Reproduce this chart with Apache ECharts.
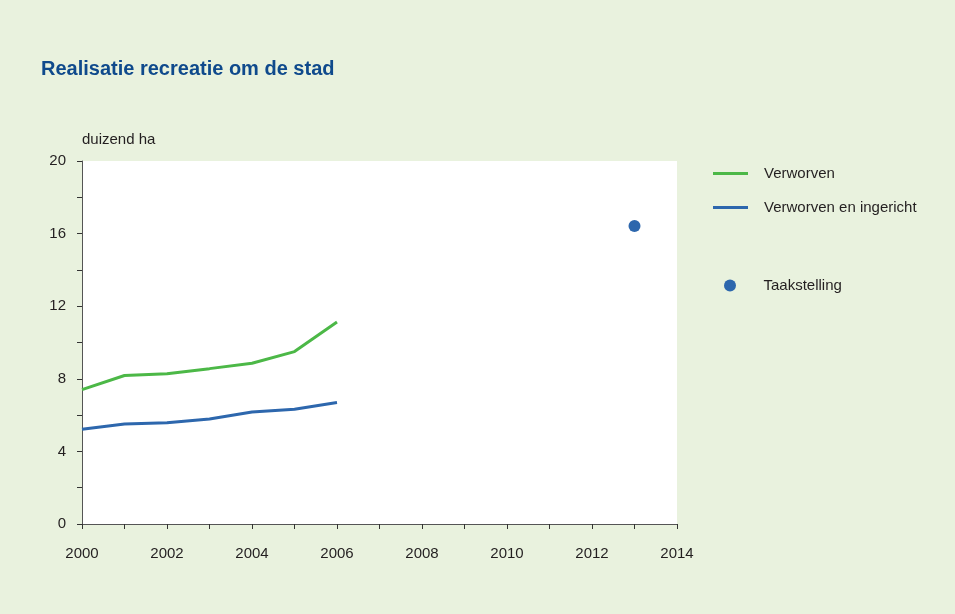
<!DOCTYPE html>
<html>
<head>
<meta charset="utf-8">
<script src="https://cdn.jsdelivr.net/npm/echarts@6/dist/echarts.min.js"></script>
<style>
  html, body { margin: 0; padding: 0; background: #e9f2de; }
  #chart { width: 955px; height: 614px; }
</style>
</head>
<body>
<div id="chart"></div>
<script>
// jaren en waarden (duizend ha)
const years = [2000, 2001, 2002, 2003, 2004, 2005, 2006];
const verworven = [7.4, 8.18, 8.28, 8.56, 8.86, 9.5, 11.13];
const ingericht = [5.22, 5.51, 5.58, 5.78, 6.17, 6.32, 6.7];
const taakJaar = [2013];
const taakstelling = [16.42];

const green = '#4cb847';
const blue = '#2d67ad';
const txt = '#231f20';
const font = 'Liberation Sans, Arial';

const chart = echarts.init(document.getElementById('chart'));

const tickCommon = {
  axisLine: { show: true, lineStyle: { color: '#555', width: 1 } },
  axisTick: { show: true, length: 5, lineStyle: { color: '#333' } },
  minorTick: { show: true, splitNumber: 2, length: 5, lineStyle: { color: '#333' } },
  splitLine: { show: false },
  axisLabel: { color: txt, fontSize: 15, fontFamily: font }
};

chart.setOption({
  backgroundColor: '#e9f2de',
  animation: false,
  title: {
    text: 'Realisatie recreatie om de stad',
    left: 36,
    top: 54,
    textStyle: { color: '#0f4a8c', fontSize: 20, fontWeight: 'bold', fontFamily: font }
  },
  grid: {
    left: 82, right: 278, top: 161, bottom: 90,
    show: true, backgroundColor: '#ffffff', borderWidth: 0
  },
  legend: [
    {
      orient: 'vertical',
      left: 713,
      top: 166,
      padding: 0,
      itemWidth: 35,
      itemHeight: 3,
      itemGap: 19,
      data: [
        { name: 'Verworven', icon: 'rect' },
        { name: 'Verworven en ingericht', icon: 'rect' }
      ],
      textStyle: { color: txt, fontSize: 15, fontFamily: font, padding: [0, 0, 0, 11] }
    },
    {
      orient: 'vertical',
      left: 719,
      top: 273,
      itemWidth: 35,
      itemHeight: 12,
      data: [{ name: 'Taakstelling', icon: 'circle' }],
      textStyle: { color: txt, fontSize: 15, fontFamily: font, padding: [0, 0, 0, 11] }
    }
  ],
  xAxis: Object.assign({}, tickCommon, {
    type: 'value',
    min: 2000,
    max: 2014,
    interval: 2,
    axisLabel: Object.assign({}, tickCommon.axisLabel, { margin: 22, formatter: v => String(v) })
  }),
  yAxis: Object.assign({}, tickCommon, {
    type: 'value',
    min: 0,
    max: 20,
    interval: 4,
    name: 'duizend ha',
    nameLocation: 'end',
    nameGap: 14,
    nameTextStyle: { color: txt, fontSize: 15, fontFamily: font, align: 'left' },
    axisLabel: Object.assign({}, tickCommon.axisLabel, { margin: 16 })
  }),
  series: [
    {
      name: 'Verworven',
      type: 'line',
      symbol: 'none',
      color: green,
      lineStyle: { color: green, width: 3 },
      data: years.map((y, i) => [y, verworven[i]])
    },
    {
      name: 'Verworven en ingericht',
      type: 'line',
      symbol: 'none',
      color: blue,
      lineStyle: { color: blue, width: 3 },
      data: years.map((y, i) => [y, ingericht[i]])
    },
    {
      name: 'Taakstelling',
      type: 'scatter',
      symbol: 'circle',
      symbolSize: 12,
      itemStyle: { color: blue, opacity: 1 },
      data: taakJaar.map((y, i) => [y, taakstelling[i]])
    }
  ]
});

window.addEventListener('resize', () => chart.resize());
</script>
</body>
</html>
